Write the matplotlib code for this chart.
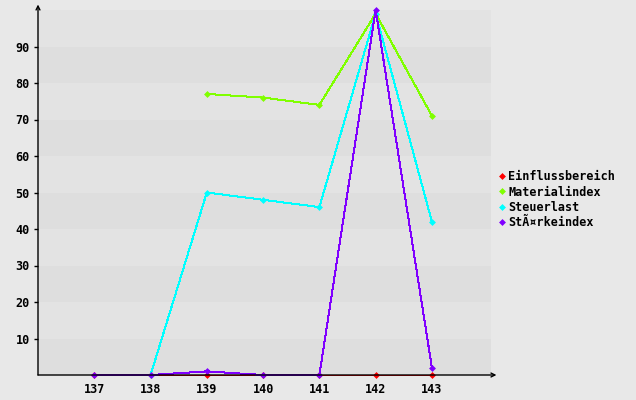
import matplotlib
matplotlib.use('Agg')
import matplotlib.pyplot as plt
import numpy as np

# chart data
years = [137, 138, 139, 140, 141, 142, 143]
einfluss_x = [137, 138, 139, 140, 141, 142, 143]
einfluss_y = [0, 0, 0, 0, 0, 0, 0]
material_x = [139, 140, 141, 142, 143]
material_y = [77, 76, 74, 99, 71]
steuer_x = [138, 139, 140, 141, 142, 143]
steuer_y = [0, 50, 48, 46, 99, 42]
staerke_x = [137, 138, 139, 140, 141, 142, 143]
staerke_y = [0, 0, 1, 0, 0, 100, 2]
y_ticks = [10, 20, 30, 40, 50, 60, 70, 80, 90]

series = [
    ('Einflussbereich', einfluss_x, einfluss_y, '#ff0000'),
    ('Materialindex', material_x, material_y, '#80ff00'),
    ('Steuerlast', steuer_x, steuer_y, '#00ffff'),
    ('StÃ¤rkeindex', staerke_x, staerke_y, '#8000ff'),
]

plt.rcParams['font.family'] = 'DejaVu Sans Mono'
plt.rcParams['font.weight'] = 'bold'

fig = plt.figure(figsize=(6.36, 4.0), dpi=100, facecolor='#e8e8e8')
ax = fig.add_axes([38 / 636, 25 / 400, 453 / 636, 365 / 400])
ax.set_facecolor('none')
ax.set_xlim(136.0, 144.05)
ax.set_ylim(0, 100)

# alternating background bands
for i in range(10):
    col = '#dedede' if i % 2 == 0 else '#e3e3e3'
    ax.axhspan(i * 10, (i + 1) * 10, color=col, lw=0, zorder=0)

for name, xs, ys, col in series:
    ax.plot(xs, ys, color=col, lw=0.72, marker='D', ms=3, mew=0.5,
            antialiased=False, label=name, zorder=3, clip_on=False)

for s in ax.spines.values():
    s.set_visible(False)

# axis lines with arrows
ax.annotate('', xy=(0, 1.015), xytext=(0, 0), xycoords='axes fraction',
            arrowprops=dict(arrowstyle='->', color='black', lw=1, shrinkA=0, shrinkB=0,
                            mutation_scale=7))
ax.annotate('', xy=(1.012, 0), xytext=(0, 0), xycoords='axes fraction',
            arrowprops=dict(arrowstyle='->', color='black', lw=1, shrinkA=0, shrinkB=0,
                            mutation_scale=7))

ax.set_xticks(years)
ax.set_xticklabels([str(y) for y in years])
ax.set_yticks(y_ticks)
ax.tick_params(axis='x', length=0, pad=6, labelsize=8.5)
ax.tick_params(axis='y', length=3, width=1, pad=3, labelsize=8.5)

leg = ax.legend(loc='center left', bbox_to_anchor=(1.0, 0.48), frameon=False,
                handlelength=0.6, handletextpad=0.25, labelspacing=0.2,
                borderaxespad=0.2, borderpad=0.4,
                prop={'family': 'DejaVu Sans Mono', 'weight': 'bold', 'size': 8.5})
for h in leg.legend_handles:
    h.set_linestyle('None')

fig.savefig('out.png', dpi=100, facecolor=fig.get_facecolor())
